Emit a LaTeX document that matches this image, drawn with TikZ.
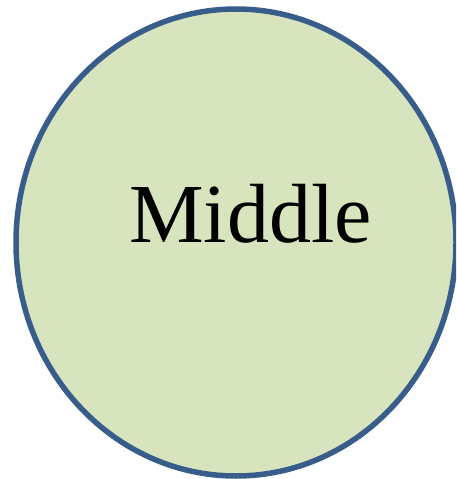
\documentclass[tikz,border=0pt]{standalone}
\usepackage{fontspec}
\setmainfont{Liberation Serif}
\usetikzlibrary{shapes.geometric}
\definecolor{fillgreen}{HTML}{D7E4BD}
\definecolor{edgeblue}{HTML}{385D8A}
\tikzset{
  bubble/.style={ellipse, draw=edgeblue, fill=fillgreen, line width=5.5pt,
    inner sep=0pt, outer sep=0pt, minimum width=440pt, minimum height=467pt},
  labeltext/.style={font=\fontsize{84}{90}\selectfont, text=black, anchor=base, inner sep=0pt}
}
\begin{document}
\begin{tikzpicture}[x=1pt,y=1pt]
\useasboundingbox (0,0) rectangle (456,-479);
\clip (0,0) rectangle (456,-479);
\node[bubble] (circ) at (236,-242.5) {};
\node[labeltext] (lbl) at (250.5,-242.5) {Middle};
\end{tikzpicture}
\end{document}
